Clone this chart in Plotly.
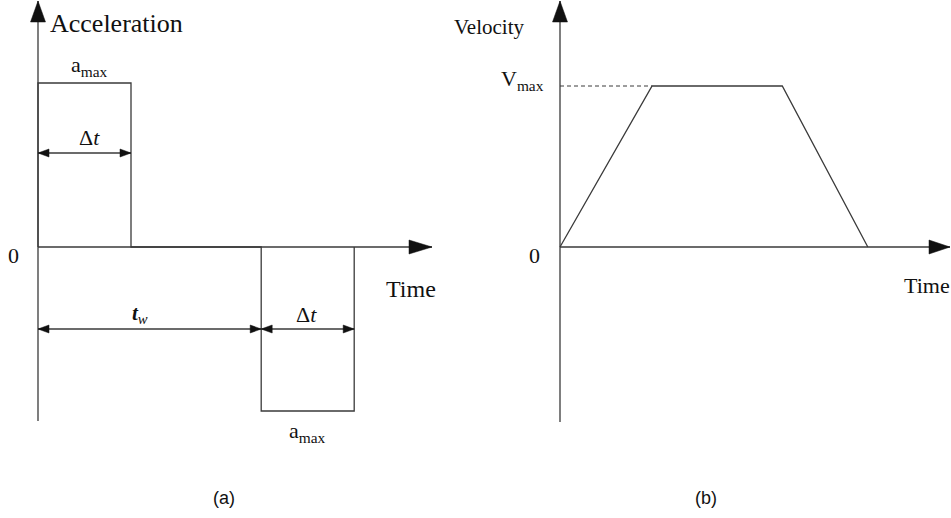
import plotly.graph_objects as go

# ---- data -------------------------------------------------------------
# (a) acceleration profile: +a_max for Δt, coast, then -a_max for Δt
accel_time = [0, 0, 1.0, 1.0, 2.4, 2.4, 3.4, 3.4]
accel_value = [0, 1, 1, 0, 0, -1, -1, 0]
dt_width = 1.0          # Δt
tw_width = 2.4          # t_w

# (b) trapezoidal velocity profile
vel_time = [0, 0.99, 2.39, 3.31]
vel_value = [0, 1, 1, 0]

# ---- layout helpers ---------------------------------------------------
W, H = 951, 518
# pixel origin and pixels-per-unit of each panel
PA = dict(ox=38, oy=247, sx=93, sy=164)
PB = dict(ox=560, oy=247, sx=93, sy=161)

LINE = "#3a3a3a"
SERIF = "Liberation Serif"
SANS = "Liberation Sans"


def xr(p):
    return [(0 - p["ox"]) / p["sx"], (W - p["ox"]) / p["sx"]]


def yr(p):
    return [(p["oy"] - H) / p["sy"], p["oy"] / p["sy"]]


def px2x(p, px):
    return (px - p["ox"]) / p["sx"]


def px2y(p, py):
    return (p["oy"] - py) / p["sy"]


fig = go.Figure()

fig.add_trace(go.Scatter(x=accel_time, y=accel_value, mode="lines",
                         line=dict(color=LINE, width=1.3),
                         xaxis="x", yaxis="y", hoverinfo="skip"))
fig.add_trace(go.Scatter(x=vel_time, y=vel_value, mode="lines",
                         line=dict(color=LINE, width=1.3),
                         xaxis="x2", yaxis="y2", hoverinfo="skip"))

shapes = []
annotations = []


def seg(xref, yref, x0, y0, x1, y1, dash=None, width=1.3):
    shapes.append(dict(type="line", xref=xref, yref=yref, x0=x0, y0=y0,
                       x1=x1, y1=y1, layer="above",
                       line=dict(color=LINE, width=width, dash=dash)))


def head(xref, yref, x, y, direction, length, half):
    # filled triangular arrowhead, tip at (x, y), sized in pixels
    if direction == "up":
        path = f"M0,0 L{-half},{-length} L{half},{-length} Z"
    elif direction == "right":
        path = f"M0,0 L{-length},{half} L{-length},{-half} Z"
    else:  # left
        path = f"M0,0 L{length},{half} L{length},{-half} Z"
    shapes.append(dict(type="path", xref=xref, yref=yref,
                       xsizemode="pixel", ysizemode="pixel",
                       xanchor=x, yanchor=y, path=path,
                       fillcolor="#111", line=dict(color="#111", width=0.5),
                       layer="above"))


def dim(xref, yref, x0, x1, y):
    seg(xref, yref, x0, y, x1, y)
    head(xref, yref, x0, y, "left", 11, 4)
    head(xref, yref, x1, y, "right", 11, 4)


def text(xref, yref, x, y, s, size, font=SERIF, xanchor="center", yanchor="middle"):
    annotations.append(dict(xref=xref, yref=yref, x=x, y=y, text=s,
                            showarrow=False, xanchor=xanchor, yanchor=yanchor,
                            font=dict(family=font, size=size, color="#111")))


# ---- panel (a) axes ---------------------------------------------------
ytop_a = px2y(PA, 1)
seg("x", "y", 0, px2y(PA, 421), 0, ytop_a)
head("x", "y", 0, ytop_a, "up", 21, 7.5)
xend_a = px2x(PA, 432)
seg("x", "y", 0, 0, xend_a, 0)
head("x", "y", xend_a, 0, "right", 23, 7)

# dimension arrows
dim("x", "y", 0, dt_width, px2y(PA, 153))
dim("x", "y", 0, tw_width, px2y(PA, 329))
dim("x", "y", tw_width, tw_width + dt_width, px2y(PA, 329))

text("x", "y", px2x(PA, 48), px2y(PA, 23), "Acceleration", 26, xanchor="left")
text("x", "y", px2x(PA, 89), px2y(PA, 66), "a<sub>max</sub>", 22)
text("x", "y", px2x(PA, 89), px2y(PA, 137), "Δ<i>t</i>", 22)
text("x", "y", px2x(PA, 13), px2y(PA, 255), "0", 22)
text("x", "y", px2x(PA, 411), px2y(PA, 289), "Time", 24)
text("x", "y", px2x(PA, 140), px2y(PA, 314), "<i><b>t</b></i><sub><i>w</i></sub>", 21)
text("x", "y", px2x(PA, 306), px2y(PA, 314), "Δ<i>t</i>", 22)
text("x", "y", px2x(PA, 307), px2y(PA, 432), "a<sub>max</sub>", 22)
text("x", "y", px2x(PA, 224), px2y(PA, 498), "(a)", 18, font=SANS)

# ---- panel (b) axes ---------------------------------------------------
ytop_b = px2y(PB, 1)
seg("x2", "y2", 0, px2y(PB, 422), 0, ytop_b)
head("x2", "y2", 0, ytop_b, "up", 21, 7.5)
xend_b = px2x(PB, 950)
seg("x2", "y2", 0, 0, xend_b, 0)
head("x2", "y2", xend_b, 0, "right", 21, 7)

# dashed guide to V_max
seg("x2", "y2", 0, vel_value[1], vel_time[1], vel_value[1], dash="4px,3px", width=1)

text("x2", "y2", px2x(PB, 489), px2y(PB, 27), "Velocity", 21)
text("x2", "y2", px2x(PB, 522), px2y(PB, 80), "V<sub>max</sub>", 22)
text("x2", "y2", px2x(PB, 534), px2y(PB, 255), "0", 22)
text("x2", "y2", px2x(PB, 927), px2y(PB, 285), "Time", 22)
text("x2", "y2", px2x(PB, 706), px2y(PB, 498), "(b)", 18, font=SANS)

hidden = dict(visible=False, showgrid=False, zeroline=False, fixedrange=True)
fig.update_layout(
    width=W, height=H,
    margin=dict(l=0, r=0, t=0, b=0),
    paper_bgcolor="white", plot_bgcolor="white",
    showlegend=False,
    xaxis=dict(range=xr(PA), domain=[0, 1], **hidden),
    yaxis=dict(range=yr(PA), domain=[0, 1], **hidden),
    xaxis2=dict(range=xr(PB), domain=[0, 1], overlaying="x", **hidden),
    yaxis2=dict(range=yr(PB), domain=[0, 1], overlaying="y", **hidden),
    shapes=shapes,
    annotations=annotations,
)

fig.write_html("out.html")
